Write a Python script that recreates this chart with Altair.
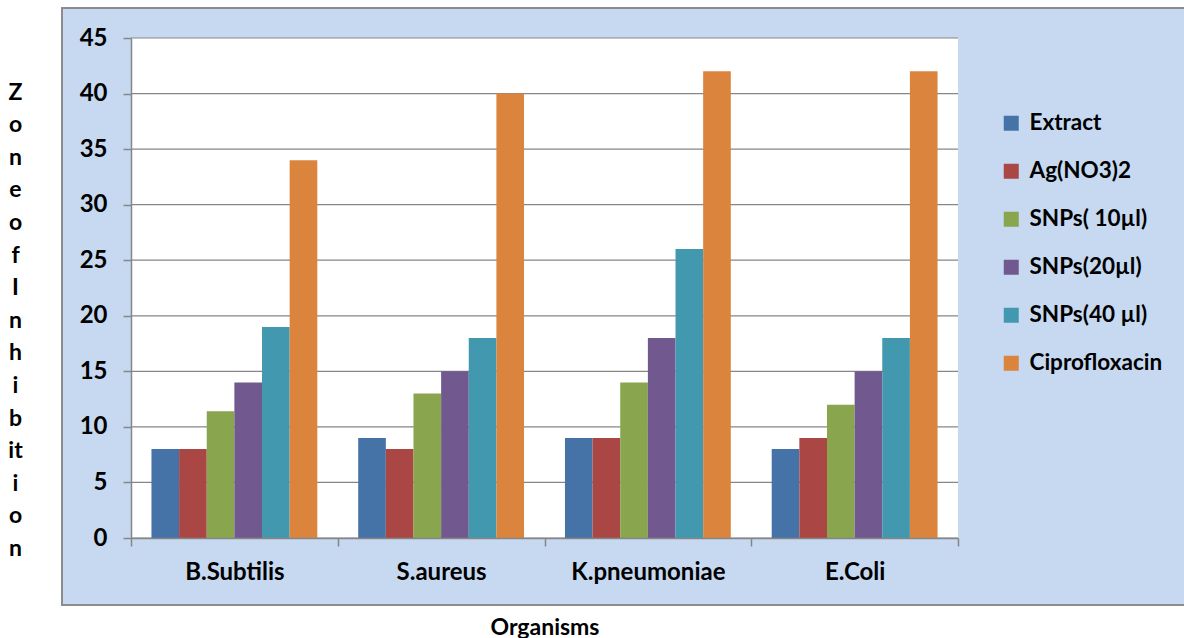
import altair as alt
import pandas as pd

# Zone of inhibition (mm) per organism for each treatment
organisms = ["B.Subtilis", "S.aureus", "K.pneumoniae", "E.Coli"]
series = ["Extract", "Ag(NO3)2", "SNPs( 10µl)", "SNPs(20µl)", "SNPs(40 µl)", "Ciprofloxacin"]
extract = [8, 9, 9, 8]
ag_no3 = [8, 8, 9, 9]
snps_10 = [11.4, 13, 14, 12]
snps_20 = [14, 15, 18, 15]
snps_40 = [19, 18, 26, 18]
ciprofloxacin = [34, 40, 42, 42]
y_ticks = [0, 5, 10, 15, 20, 25, 30, 35, 40, 45]
colors = ["#4572A7", "#AA4643", "#89A54E", "#71588F", "#4198AF", "#DB843D"]
y_title_lines = ["Z", "o", "n", "e", "o", "f", "I", "n", "h", "i", "b", "it", "i", "o", "n"]

values = [extract, ag_no3, snps_10, snps_20, snps_40, ciprofloxacin]
df = pd.DataFrame(
    [
        {"organism": o, "treatment": s, "zone": v}
        for s, vals in zip(series, values)
        for o, v in zip(organisms, vals)
    ]
)

W, H = 827, 500
FONT = "Lato"
GREY = "#868686"
yscale = alt.Scale(domain=[0, 45], nice=False, zero=True)

y_axis = alt.Axis(
    values=y_ticks,
    grid=False,
    title=y_title_lines,
    titleAngle=0,
    titleX=-116,
    titleY=54,
    titleAlign="center",
    titleBaseline="middle",
    titleLineHeight=32.6,
    titleFont=FONT,
    titleFontSize=23,
    titleFontWeight="bold",
    titleColor="black",
    labelFont=FONT,
    labelFontSize=24,
    labelFontWeight="bold",
    labelColor="black",
    labelPadding=16,
    tickSize=8,
    tickColor=GREY,
    tickWidth=1.5,
    domainColor=GREY,
    domainWidth=1.5,
    zindex=1,
)

one = pd.DataFrame({"k": [0]})

# light blue chart panel with grey border
panel = alt.Chart(one).mark_rect(
    fill="#C6D9F1", stroke="#8C8C8C", strokeWidth=2
).encode(
    x=alt.value(-69), x2=alt.value(W + 240), y=alt.value(-30), y2=alt.value(H + 67)
)

# white plotting area
plot_bg = alt.Chart(one).mark_rect(fill="white").encode(
    x=alt.value(0), x2=alt.value(W), y=alt.value(0), y2=alt.value(H)
)

# horizontal gridlines
grid = alt.Chart(pd.DataFrame({"zone": y_ticks})).mark_rule(
    color=GREY, strokeWidth=1.2
).encode(
    y=alt.Y("zone:Q", scale=yscale, axis=y_axis),
    x=alt.value(0),
    x2=alt.value(W),
)

bars = alt.Chart(df).mark_bar().encode(
    x=alt.X(
        "organism:N",
        sort=organisms,
        scale=alt.Scale(paddingInner=0, paddingOuter=0),
        axis=alt.Axis(
            title="Organisms",
            labelAngle=0,
            labelFont=FONT,
            labelFontSize=24,
            labelFontWeight="bold",
            labelColor="black",
            labelPadding=14,
            tickBand="extent",
            tickSize=8,
            tickColor=GREY,
            tickWidth=1.5,
            domainColor=GREY,
            domainWidth=1.5,
            titleFont=FONT,
            titleFontSize=23,
            titleFontWeight="bold",
            titleColor="black",
            titleY=89,
            titleBaseline="middle",
            zindex=1,
        ),
    ),
    xOffset=alt.XOffset(
        "treatment:N",
        sort=series,
        scale=alt.Scale(paddingInner=0, paddingOuter=0.74),
    ),
    y=alt.Y("zone:Q", scale=yscale, axis=y_axis),
    color=alt.Color(
        "treatment:N",
        sort=series,
        scale=alt.Scale(domain=series, range=colors),
        legend=alt.Legend(
            title=None,
            orient="none",
            legendX=869,
            legendY=74,
            symbolType="square",
            symbolSize=225,
            symbolStrokeWidth=0,
            labelFont=FONT,
            labelFontSize=22.5,
            labelFontWeight="bold",
            labelColor="black",
            labelOffset=7,
            rowPadding=25,
            padding=0,
        ),
    ),
)

chart = alt.layer(panel, plot_bg, grid, bars).properties(
    width=W,
    height=H,
    padding={"left": 131, "top": 38, "right": 226, "bottom": 100},
    autosize=alt.AutoSizeParams(type="none"),
    background="white",
).configure_view(stroke=None)

chart.save("out.html", embed_options={"renderer": "svg", "actions": False})
